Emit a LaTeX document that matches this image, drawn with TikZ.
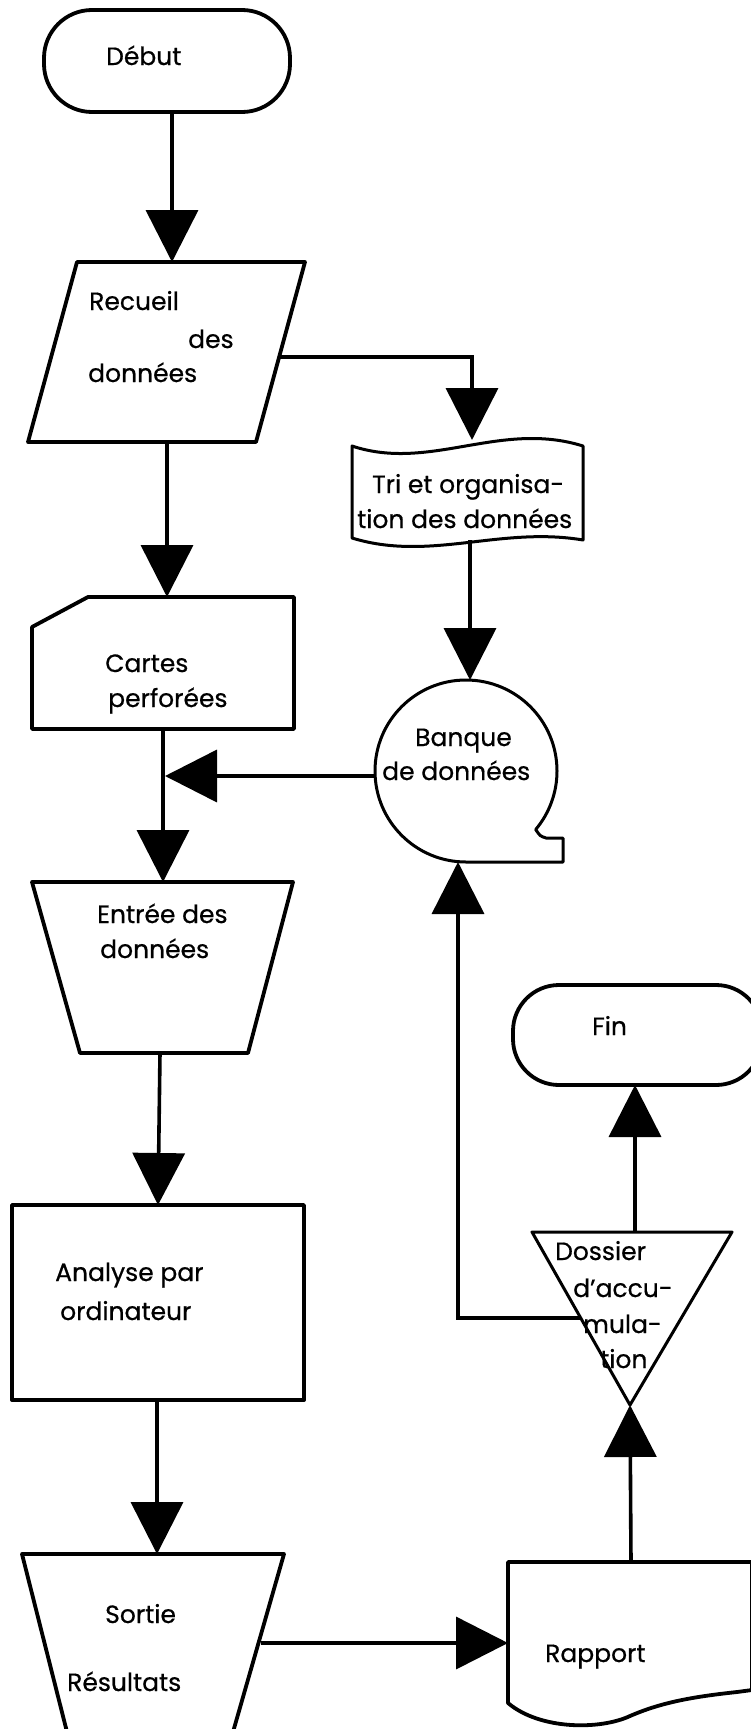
\documentclass[tikz,border=0pt]{standalone}
\usepackage{fontspec}
\setmainfont{Poppins}[FakeBold=0.6]
\usetikzlibrary{arrows.meta}
\tikzset{
  shape line/.style={line width=3.8pt, line join=round},
  thin shape/.style={line width=3pt, line join=round},
  conn/.style={line width=3.6pt, -{Triangle[width=52pt,length=52pt]}},
  txt/.style={anchor=base west, inner sep=0pt, font=\fontsize{25}{28}\selectfont}
}
\begin{document}
\begin{tikzpicture}[x=1pt,y=-1pt]
\useasboundingbox[fill=white] (0,0) rectangle (751,1729);

% ---- shapes ----
% Debut (terminal)
\draw[shape line, rounded corners=48pt] (44,10) rectangle (290,112);
% Recueil (parallelogram)
\draw[shape line] (77,262) -- (305,262) -- (256,442) -- (28,442) -- cycle;
% Tri (punched tape)
\draw[thin shape] (352,446) .. controls (430,472) and (500,420) .. (583,446)
  -- (583,540) .. controls (500,526) and (430,562) .. (352,538) -- cycle;
% Banque (circle with tail)
\draw[thin shape] (466,862) arc[start angle=-90, end angle=-400, radius=91pt]
  .. controls (540,836) .. (546,838) -- (563,838) -- (563,862) -- cycle;
% Cartes (card)
\draw[shape line] (88,597) -- (294,597) -- (294,729) -- (32,729) -- (32,627) -- cycle;
% Entree (trapezoid)
\draw[shape line] (32,882) -- (293,882) -- (248,1053) -- (80,1053) -- cycle;
% Analyse (rectangle)
\draw[shape line] (12,1205) rectangle (304,1400);
% Sortie (trapezoid, cut by the page)
\draw[shape line] (22,1554) -- (284,1554) -- (233,1732) -- (67,1732) -- cycle;
% Rapport (document)
\draw[shape line] (508,1562) -- (752,1562) -- (752,1690) -- (737,1692)
  .. controls (690,1697) and (660,1703) .. (630,1716)
  .. controls (600,1730) and (540,1730) .. (508,1703) -- cycle;
% Dossier (inverted triangle)
\draw[thin shape] (532,1232) -- (732,1232) -- (630,1405) -- cycle;
% Fin (terminal)
\draw[shape line, rounded corners=46pt] (513,985) rectangle (762,1085);

% ---- texts ----
\node[txt] (tdebut) at (106,65) {Début};
\node[txt] (trec1) at (89,310) {Recueil};
\node[txt] (trec2) at (188,348) {des};
\node[txt] (trec3) at (88,382) {données};
\node[txt] (ttri1) at (372,493) {Tri et organisa-};
\node[txt] (ttri2) at (357,528) {tion des données};
\node[txt] (tban1) at (415,746) {Banque};
\node[txt] (tban2) at (382,780) {de données};
\node[txt] (tcar1) at (105,672) {Cartes};
\node[txt] (tcar2) at (108,707) {perforées};
\node[txt] (tent1) at (97,923) {Entrée des};
\node[txt] (tent2) at (100,958) {données};
\node[txt] (tfin) at (592,1035) {Fin};
\node[txt] (tdos1) at (555,1260) {Dossier};
\node[txt] (tdos2) at (573,1297) {d{\char"27}accu-};
\node[txt] (tdos3) at (583,1333) {mula-};
\node[txt] (tdos4) at (600,1368) {tion};
\node[txt] (tana1) at (55,1281) {Analyse par};
\node[txt] (tana2) at (60,1320) {ordinateur};
\node[txt] (tsor1) at (105,1623) {Sortie};
\node[txt] (tsor2) at (67,1691) {Résultats};
\node[txt] (trap) at (545,1662) {Rapport};

% ---- connection points ----
\coordinate (debutS) at (172,112);
\coordinate (recueilN) at (172,262);
\coordinate (recueilE) at (280,357);
\coordinate (bendTri) at (472,357);
\coordinate (triN) at (472,440);
\coordinate (recueilS) at (167,442);
\coordinate (cartesN) at (167,597);
\coordinate (triS) at (470,540);
\coordinate (banqueN) at (470,680);
\coordinate (banqueW) at (375,776);
\coordinate (joinMain) at (165,776);
\coordinate (cartesS) at (163,729);
\coordinate (entreeN) at (163,882);
\coordinate (entreeS) at (160,1053);
\coordinate (analyseN) at (158,1205);
\coordinate (analyseS) at (157,1400);
\coordinate (sortieN) at (157,1554);
\coordinate (sortieE) at (261,1643);
\coordinate (rapportW) at (508,1643);
\coordinate (rapportN) at (631,1562);
\coordinate (dossierS) at (630,1405);
\coordinate (dossierN) at (635,1232);
\coordinate (finS) at (635,1085);
\coordinate (dossierW) at (581,1318);
\coordinate (bendBan) at (458,1318);
\coordinate (banqueS) at (458,862);

% ---- connectors ----
\draw[conn] (debutS) -- (recueilN);
\draw[conn] (recueilE) -- (bendTri) -- (triN);
\draw[conn] (recueilS) -- (cartesN);
\draw[conn] (triS) -- (banqueN);
\draw[conn] (banqueW) -- (joinMain);
\draw[conn] (cartesS) -- (entreeN);
\draw[conn] (entreeS) -- (analyseN);
\draw[conn] (analyseS) -- (sortieN);
\draw[conn] (sortieE) -- (rapportW);
\draw[conn] (rapportN) -- (dossierS);
\draw[conn] (dossierN) -- (finS);
\draw[conn] (dossierW) -- (bendBan) -- (banqueS);
\end{tikzpicture}
\end{document}
